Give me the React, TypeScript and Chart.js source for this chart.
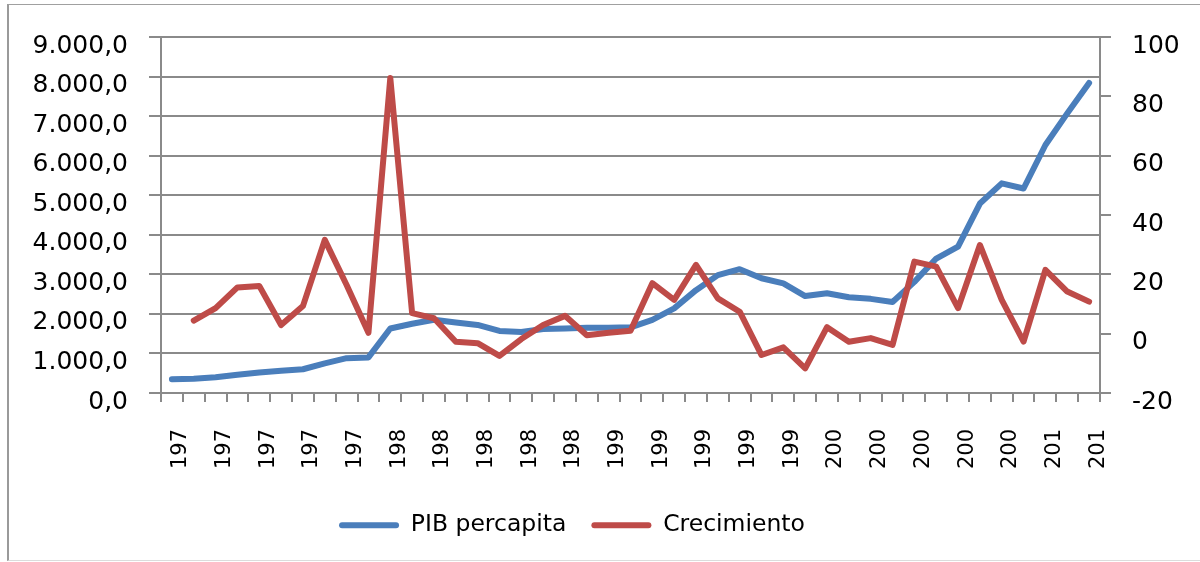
import React, { useEffect, useRef } from 'react';
import { Chart, registerables } from 'chart.js';

Chart.register(...registerables);

const years = [
  '1970', '1971', '1972', '1973', '1974', '1975', '1976', '1977', '1978', '1979',
  '1980', '1981', '1982', '1983', '1984', '1985', '1986', '1987', '1988', '1989',
  '1990', '1991', '1992', '1993', '1994', '1995', '1996', '1997', '1998', '1999',
  '2000', '2001', '2002', '2003', '2004', '2005', '2006', '2007', '2008', '2009',
  '2010', '2011', '2012',
];

const pibPercapita = [
  350, 360, 400, 460, 520, 560, 600, 750, 880, 900,
  1630, 1750, 1850, 1780, 1720, 1570, 1540, 1620, 1630, 1650,
  1650, 1660, 1850, 2140, 2600, 2980, 3130, 2900, 2770, 2450,
  2520, 2420, 2380, 2300, 2810, 3400, 3700, 4790, 5300, 5170,
  6270, 7070, 7840,
];

const crecimiento = [
  null, 4.4, 8.6, 15.6, 16.1, 2.9, 9.3, 31.6, 16.4, 0.3,
  86.2, 6.9, 5.2, -2.7, -3.2, -7.5, -1.8, 2.9, 6.0, -0.5,
  0.3, 1.0, 17.0, 11.4, 23.2, 11.9, 7.4, -7.2, -4.6, -11.7,
  2.2, -2.7, -1.5, -3.8, 24.3, 22.6, 8.6, 29.9, 11.4, -2.7,
  21.5, 14.2, 10.8,
];

const seriesNames = ['PIB percapita', 'Crecimiento'];

const BLUE = '#4A7EBB';
const RED = '#BE4B48';
const GRID = '#8a8a8a';
const FONT = 'DejaVu Sans';

function formatMiles(v: number): string {
  const s = Math.round(v).toString();
  const withDots = s.replace(/\B(?=(\d{3})+(?!\d))/g, '.');
  return withDots + ',0';
}

export default function App() {
  const ref = useRef<HTMLCanvasElement>(null);

  useEffect(() => {
    const shiftLegend = {
      id: 'shiftLegend',
      afterLayout(chart: any) {
        const l = chart.legend;
        if (l) {
          l.left -= 28;
          l.right -= 28;
        }
      },
    };

    const chart = new Chart(ref.current as HTMLCanvasElement, {
      type: 'line',
      data: {
        labels: years,
        datasets: [
          {
            label: seriesNames[0],
            data: pibPercapita,
            borderColor: BLUE,
            backgroundColor: BLUE,
            borderWidth: 6,
            pointRadius: 0,
            tension: 0,
            borderJoinStyle: 'round',
            borderCapStyle: 'round',
            yAxisID: 'y',
            order: 1,
          },
          {
            label: seriesNames[1],
            data: crecimiento,
            borderColor: RED,
            backgroundColor: RED,
            borderWidth: 6,
            pointRadius: 0,
            tension: 0,
            borderJoinStyle: 'round',
            borderCapStyle: 'round',
            yAxisID: 'y1',
            order: 0,
          },
        ],
      },
      options: {
        responsive: false,
        animation: false,
        devicePixelRatio: 1,
        events: [],
        layout: { padding: { top: 37, left: 0, right: 0, bottom: 15 } },
        plugins: {
          tooltip: { enabled: false },
          legend: {
            position: 'bottom',
            labels: {
              font: { family: FONT, size: 23.5 },
              color: '#000',
              boxWidth: 60,
              boxHeight: 6,
              padding: 25,
              useBorderRadius: true,
              borderRadius: 3,
              sort: (a: any, b: any) => a.datasetIndex - b.datasetIndex,
              generateLabels: (c: any) =>
                (Chart.defaults.plugins.legend.labels.generateLabels as any)(c).map((it: any) => ({
                  ...it,
                  lineWidth: 0,
                  strokeStyle: 'rgba(0,0,0,0)',
                })),
            },
          },
        },
        scales: {
          x: {
            type: 'category',
            offset: true,
            grid: {
              offset: true,
              drawOnChartArea: false,
              color: GRID,
              lineWidth: 2,
              tickLength: 9,
            },
            border: { color: GRID, width: 2 },
            ticks: {
              autoSkip: false,
              minRotation: 90,
              maxRotation: 90,
              padding: 27,
              labelOffset: 9,
              color: '#000',
              font: { family: FONT, size: 21 },
              callback: function (_v: any, i: number) {
                return i % 2 === 0 ? years[i].slice(0, 3) : '';
              },
            },
            afterFit: (s: any) => {
              s.height = 95.5;
            },
          },
          y: {
            position: 'left',
            min: 0,
            max: 9000,
            grid: { color: GRID, lineWidth: 2, tickLength: 12 },
            border: { color: GRID, width: 2 },
            ticks: {
              stepSize: 1000,
              padding: 21,
              labelOffset: 9,
              color: '#000',
              font: { family: FONT, size: 25 },
              callback: (v: any) => formatMiles(Number(v)),
            },
            afterFit: (s: any) => {
              s.width = 161;
            },
          },
          y1: {
            position: 'right',
            min: -20,
            max: 100,
            grid: { drawOnChartArea: false, color: GRID, lineWidth: 2, tickLength: 11 },
            border: { color: GRID, width: 2 },
            ticks: {
              stepSize: 20,
              padding: 21,
              labelOffset: 9,
              color: '#000',
              font: { family: FONT, size: 25 },
            },
            afterFit: (s: any) => {
              s.width = 100;
            },
          },
        },
      },
      plugins: [shiftLegend],
    } as any);

    return () => chart.destroy();
  }, []);

  return (
    <div
      style={{
        position: 'fixed',
        left: 0,
        top: 0,
        width: 1200,
        height: 562,
        background: '#fff',
        overflow: 'hidden',
      }}
    >
      <canvas ref={ref} width={1200} height={562} style={{ display: 'block' }} />
      <div
        style={{
          position: 'absolute',
          left: 7,
          top: 4,
          width: 1193,
          height: 557,
          boxSizing: 'border-box',
          borderLeft: '2px solid #9a9a9a',
          borderTop: '1px solid #a0a0a0',
          borderBottom: '1px solid #dcdcdc',
          pointerEvents: 'none',
        }}
      />
    </div>
  );
}
